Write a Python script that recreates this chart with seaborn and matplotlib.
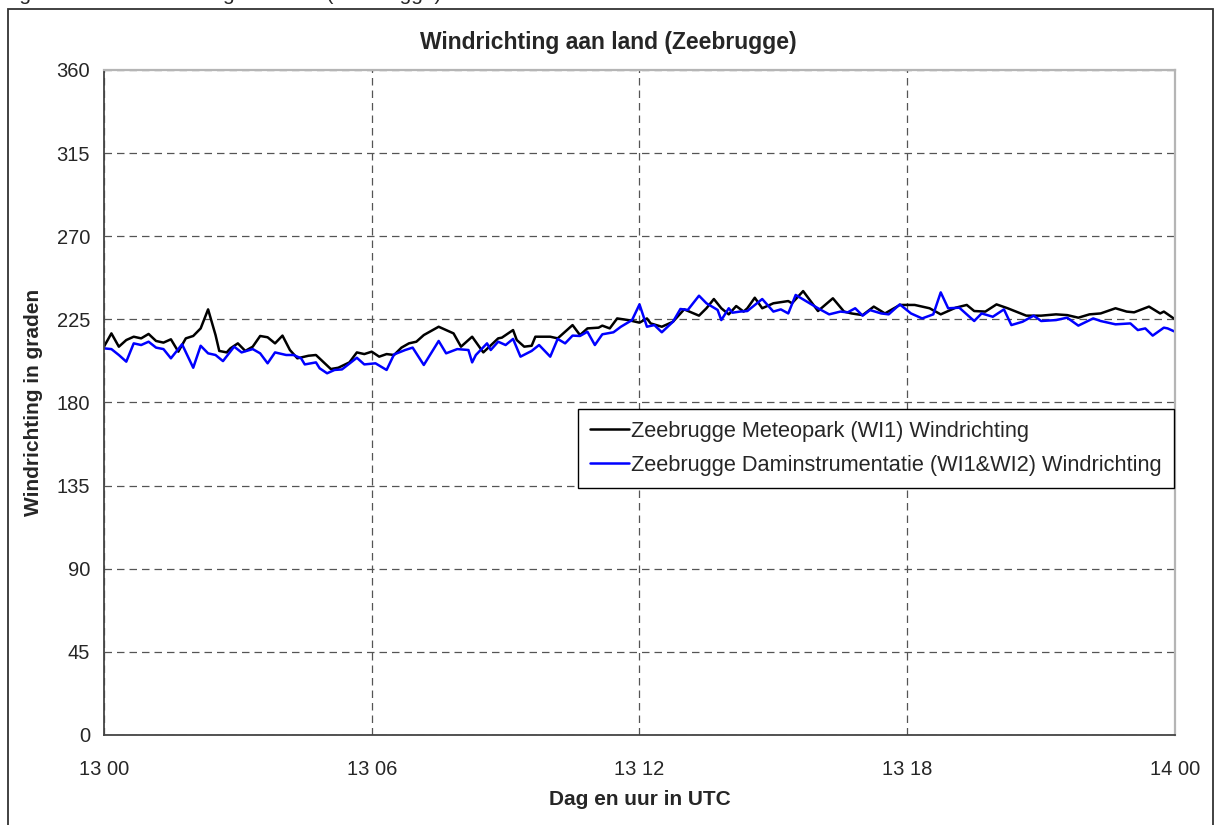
import pandas as pd
import matplotlib.pyplot as plt
import seaborn as sns
from matplotlib.patches import Rectangle

# Data: minutes since 13 00 UTC and wind direction (degrees)
meteo_min = [0, 10, 20, 30, 40, 50, 60, 70, 80, 90, 100, 110, 120, 130, 140, 150, 155, 165,
             170, 180, 190, 200, 210, 220, 230, 240, 250, 260, 275, 285, 305, 315, 330, 340,
             350, 360, 370, 380, 390, 400, 410, 420, 430, 450, 460, 470, 480, 495, 510, 530,
             535, 550, 555, 565, 575, 580, 600, 610, 630, 640, 650, 665, 670, 680, 690, 705,
             720, 730, 735, 750, 765, 780, 800, 810, 820, 830, 840, 850, 860, 865, 875, 885,
             900, 920, 925, 940, 960, 980, 995, 1005, 1020, 1035, 1050, 1070, 1090, 1110, 1125,
             1145, 1160, 1170, 1185, 1200, 1215, 1240, 1260, 1280, 1295, 1310, 1325, 1340, 1360,
             1375, 1385, 1405, 1420, 1425, 1440]
meteo_deg = [210.2, 217.4, 210.2, 213.8, 215.6, 214.7, 217.1, 213.3, 212.4, 214.2, 207.5,
             214.7, 216.0, 220.1, 230.4, 216.5, 207.9, 207.1, 209.3, 212.0, 207.9, 210.2, 216.0,
             215.3, 212.0, 216.2, 208.4, 203.9, 205.3, 205.7, 198.1, 198.8, 201.7, 207.1, 206.2,
             207.5, 204.8, 206.2, 205.7, 209.7, 212.0, 212.9, 216.5, 221.0, 219.2, 217.4, 210.2,
             215.6, 207.1, 214.7, 215.1, 219.2, 213.8, 210.2, 210.7, 215.6, 215.6, 214.7, 221.9,
             216.5, 220.1, 220.5, 221.6, 220.1, 225.5, 224.6, 223.2, 225.5, 222.8, 221.0, 223.7,
             230.4, 227.0, 231.0, 236.0, 231.0, 227.7, 232.2, 229.2, 231.0, 236.7, 231.0, 233.7,
             234.9, 233.7, 240.3, 229.5, 236.4, 229.2, 228.2, 227.3, 231.9, 228.2, 232.8, 232.8,
             231.0, 227.7, 231.3, 232.8, 229.5, 229.2, 233.1, 231.0, 227.0, 227.0, 227.7, 227.3,
             225.9, 227.7, 228.2, 231.0, 229.2, 228.8, 231.9, 228.2, 229.2, 225.0]

dam_min = [0, 10, 20, 30, 40, 50, 60, 70, 80, 90, 105, 120, 130, 140, 150, 160, 175, 185,
           200, 210, 220, 230, 245, 255, 265, 270, 285, 290, 300, 310, 320, 340, 350, 365,
           380, 390, 405, 415, 430, 450, 460, 475, 490, 495, 500, 515, 520, 530, 540, 550,
           560, 575, 585, 600, 610, 620, 630, 640, 650, 660, 670, 685, 695, 710, 720, 730,
           740, 750, 765, 775, 785, 800, 810, 825, 830, 840, 845, 855, 865, 885, 900, 910,
           920, 930, 945, 960, 975, 990, 1000, 1010, 1020, 1030, 1045, 1055, 1070, 1085, 1100,
           1115, 1125, 1135, 1150, 1170, 1180, 1195, 1210, 1220, 1235, 1250, 1260, 1280, 1295,
           1310, 1330, 1340, 1360, 1380, 1390, 1400, 1410, 1425, 1430, 1440]
dam_deg = [209.3, 208.9, 205.7, 202.1, 212.0, 211.1, 212.9, 209.7, 208.9, 203.9, 211.5,
           198.8, 210.7, 206.6, 205.7, 202.4, 210.2, 207.1, 208.9, 206.6, 201.2, 207.1, 205.7,
           205.7, 203.9, 200.6, 201.7, 198.5, 195.8, 197.6, 197.9, 204.2, 200.6, 201.2, 197.6,
           206.0, 208.4, 209.7, 200.3, 213.3, 206.6, 208.9, 208.4, 201.7, 205.7, 212.0, 208.4,
           212.9, 211.1, 214.4, 204.8, 207.9, 211.1, 204.8, 214.4, 212.0, 216.2, 216.0, 218.3,
           211.1, 216.9, 218.0, 221.0, 224.6, 233.1, 221.0, 221.9, 218.0, 223.7, 230.6, 230.1,
           237.8, 233.7, 230.1, 224.6, 231.0, 228.6, 229.2, 229.5, 236.0, 229.2, 230.4, 228.2,
           238.2, 234.6, 231.0, 227.7, 229.2, 228.8, 231.0, 227.0, 230.0, 228.2, 227.7, 233.1,
           228.2, 225.5, 227.7, 239.6, 231.0, 231.3, 224.1, 228.2, 226.4, 230.4, 221.9, 223.7,
           227.0, 224.1, 224.6, 225.9, 221.6, 225.5, 224.1, 222.3, 222.8, 219.2, 220.1, 216.2,
           220.5, 220.1, 218.3]

series_names = ["Zeebrugge Meteopark (WI1) Windrichting",
                "Zeebrugge Daminstrumentatie (WI1&WI2) Windrichting"]
series_colors = ["#000000", "#0000ff"]
x_ticks = [0, 6, 12, 18, 24]
x_labels = ["13 00", "13 06", "13 12", "13 18", "14 00"]
y_ticks = [0, 45, 90, 135, 180, 225, 270, 315, 360]

df = pd.concat([
    pd.DataFrame({"Bron": series_names[0], "uur": [m / 60 for m in meteo_min], "graden": meteo_deg}),
    pd.DataFrame({"Bron": series_names[1], "uur": [m / 60 for m in dam_min], "graden": dam_deg}),
], ignore_index=True)

sns.set_style("white")
plt.rcParams['font.family'] = ['Liberation Sans', 'DejaVu Sans']

fig = plt.figure(figsize=(12.16, 8.25), dpi=100)
ax = fig.add_axes([0.0855, 0.1091, 0.8808, 0.8061])

sns.lineplot(data=df, x="uur", y="graden", hue="Bron", palette=series_colors,
             estimator=None, sort=True, linewidth=1.8, ax=ax)

# assen en raster
ax.set_xlim(0, 24)
ax.set_ylim(0, 360)
ax.set_xticks(x_ticks)
ax.set_xticklabels(x_labels)
ax.set_yticks(y_ticks)
ax.tick_params(axis='both', labelsize=14.5, length=6, width=1, color='#444444', direction='out')
ax.tick_params(axis='x', pad=12)
ax.tick_params(axis='y', pad=4)
ax.yaxis.grid(True, linestyle=(0, (6, 4)), color='#555555', linewidth=0.9)
ax.xaxis.grid(True, linestyle=(0, (6, 4)), color='#555555', linewidth=0.9)
for side in ['top', 'right']:
    ax.spines[side].set_color('#b5b5b5')
    ax.spines[side].set_linewidth(1.6)
for side in ['left', 'bottom']:
    ax.spines[side].set_color('#444444')
    ax.spines[side].set_linewidth(1.3)
ax.set_axisbelow(True)

ax.set_xlabel("Dag en uur in UTC", fontsize=15, fontweight='bold', labelpad=8)
ax.set_ylabel("Windrichting in graden", fontsize=15, fontweight='bold', labelpad=10)
ax.set_title("Windrichting aan land (Zeebrugge)", fontsize=16.5, fontweight='bold',
             pad=15, x=0.4706)

leg = ax.legend(loc='upper left', bbox_to_anchor=(0.4426, 0.4902), fontsize=15.7,
                frameon=True, fancybox=False, edgecolor='black', framealpha=1,
                handlelength=1.8, handletextpad=0.1, labelspacing=0.6,
                borderpad=0.55, borderaxespad=0)
leg.get_frame().set_linewidth(1.0)
leg.set_title(None)

# kader rond de grafiek en afgesneden bijschrift bovenaan
fig.patches.append(Rectangle((0.0066, -0.01), 0.9909, 0.999, transform=fig.transFigure,
                             fill=False, edgecolor='#333333', linewidth=1.3))
fig.text(0.002, 1.0005, "Figuur 3.10: Windrichting aan land (Zeebrugge)", fontsize=15,
         va='baseline', ha='left')

fig.savefig("out.png", dpi=100)
